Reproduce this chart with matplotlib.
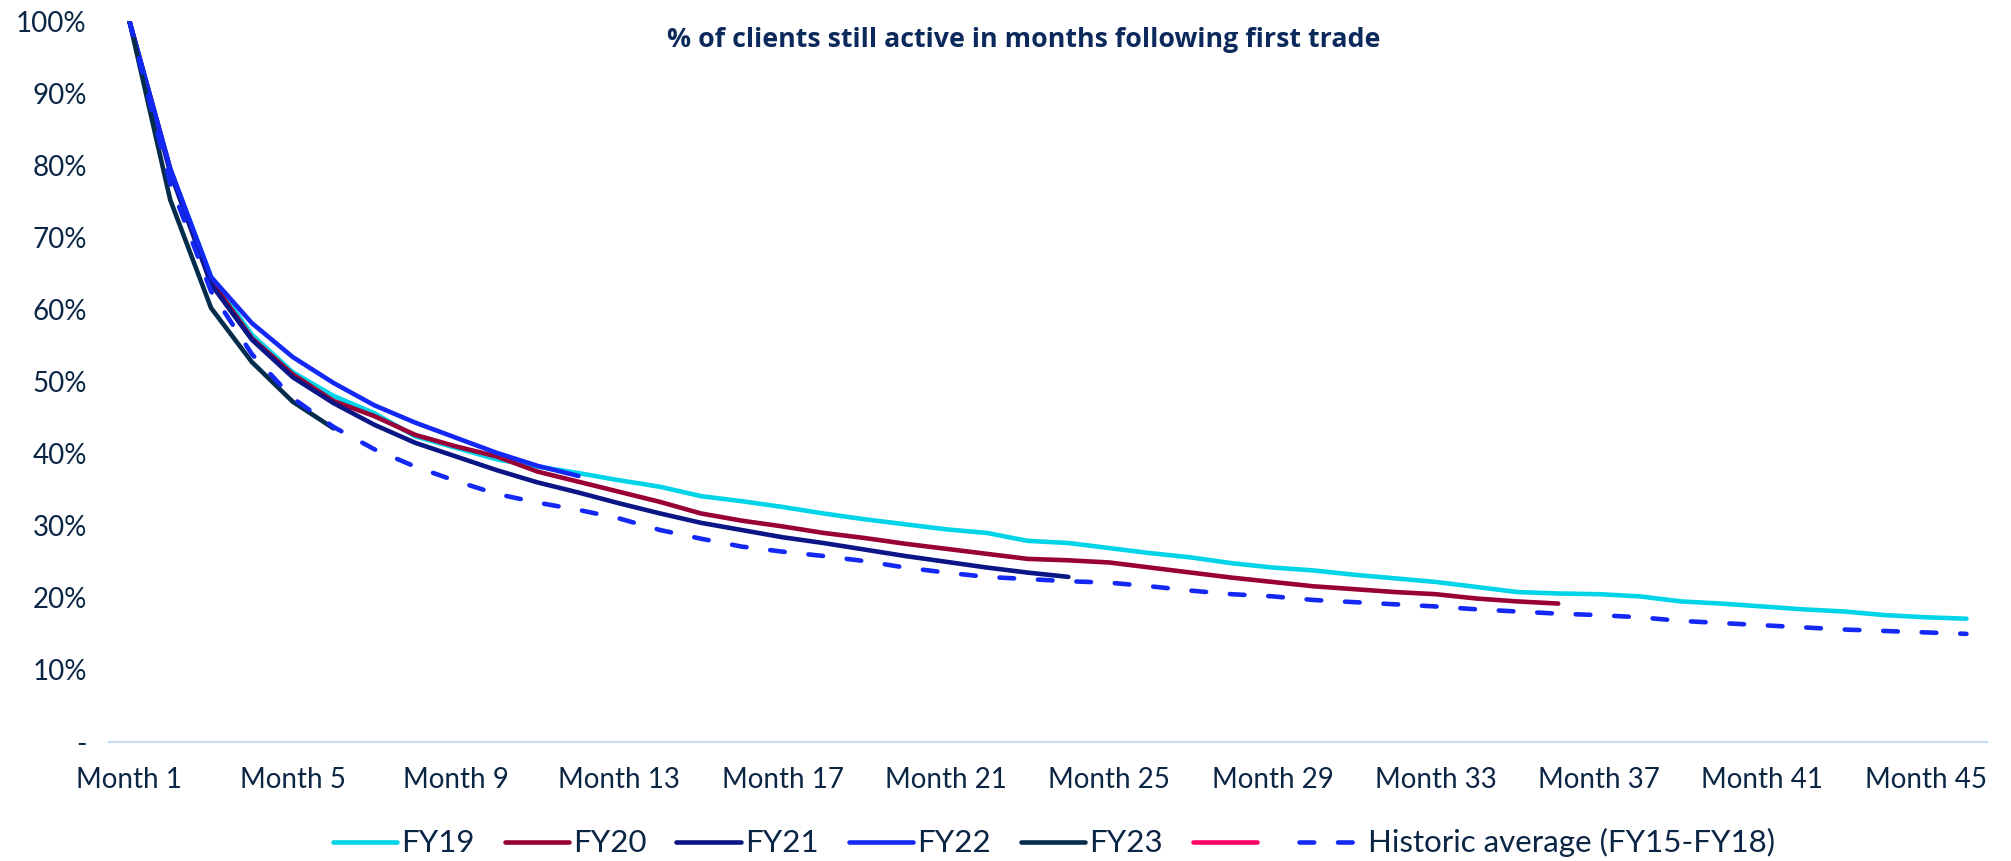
import matplotlib
matplotlib.use("Agg")
import matplotlib.pyplot as plt

# Datos (% de clientes activos por mes)
meses = list(range(1, 47))

fy19 = [100, 79.5, 64.5, 56.5, 51.3, 48.0, 45.6, 42.4, 40.8, 39.2,
        38.2, 37.3, 36.3, 35.4, 34.1, 33.4, 32.6, 31.7, 30.9, 30.2,
        29.5, 29.0, 27.9, 27.6, 26.9, 26.2, 25.6, 24.8, 24.2, 23.8,
        23.2, 22.7, 22.2, 21.5, 20.8, 20.6, 20.5, 20.2, 19.5, 19.2,
        18.8, 18.4, 18.1, 17.6, 17.3, 17.1]
fy20 = [100, 79.5, 64.0, 56.0, 51.0, 47.3, 45.2, 42.6, 41.0, 39.6,
        37.5, 36.1, 34.7, 33.3, 31.7, 30.7, 29.9, 29.0, 28.3, 27.5,
        26.8, 26.1, 25.4, 25.2, 24.9, 24.2, 23.5, 22.8, 22.2, 21.6,
        21.2, 20.8, 20.5, 19.9, 19.5, 19.2]
fy21 = [100, 79.0, 63.5, 55.8, 50.6, 47.0, 44.0, 41.5, 39.6, 37.7,
        36.0, 34.6, 33.1, 31.7, 30.4, 29.4, 28.4, 27.6, 26.7, 25.8,
        25.0, 24.2, 23.5, 22.9]
fy22 = [100, 79.5, 64.5, 58.1, 53.4, 49.8, 46.7, 44.3, 42.2, 40.1,
        38.3, 36.9]
fy23 = [100, 75.2, 60.2, 52.7, 47.2, 43.5]
fy24 = []
historico = [100, 77.5, 62.5, 53.8, 47.7, 43.7, 40.6, 38.2, 36.2, 34.4,
             33.2, 32.2, 31.0, 29.4, 28.2, 27.1, 26.4, 25.8, 25.1, 24.2,
             23.5, 22.9, 22.6, 22.3, 22.1, 21.6, 21.0, 20.5, 20.2, 19.7,
             19.4, 19.1, 18.8, 18.4, 18.1, 17.8, 17.6, 17.3, 16.8, 16.5,
             16.2, 15.9, 15.6, 15.4, 15.2, 15.0]

series = [("FY19", fy19, "#00D4E8"),
          ("FY20", fy20, "#990038"),
          ("FY21", fy21, "#0A1586"),
          ("FY22", fy22, "#1428F5"),
          ("FY23", fy23, "#062C4C"),
          (" ", fy24, "#FF0066")]

marcas = list(range(1, 46, 4))
etiquetas_x = [f"Month {m}" for m in marcas]
niveles_y = list(range(0, 101, 10))
etiquetas_y = ["-"] + [f"{v}%" for v in niveles_y[1:]]

texto = "#0B2545"
plt.rcParams['font.family'] = ['Lato', 'DejaVu Sans']

fig = plt.figure(figsize=(20.11, 8.61), dpi=100)
ax = fig.add_axes([0.0542, 0.1382, 0.9338, 0.8374])

for nombre, valores, color in series:
    ax.plot(meses[:len(valores)], valores, color=color, lw=3.3,
            solid_capstyle='round', label=nombre)

ax.plot(meses[:len(historico)], historico, color="#1428F5", lw=3.3,
        dashes=(3.2, 5.2), dash_capstyle='round',
        label="Historic average (FY15-FY18)")

ax.set_xlim(0.5, 46.5)
ax.set_ylim(0, 100)
ax.set_xticks(marcas)
ax.set_xticklabels(etiquetas_x)
ax.set_yticks(niveles_y)
ax.set_yticklabels(etiquetas_y)
ax.tick_params(length=0, labelsize=20, colors=texto)
ax.tick_params(axis='x', pad=18)
ax.tick_params(axis='y', pad=16)

for lado in ['top', 'right', 'left']:
    ax.spines[lado].set_visible(False)
ax.spines['bottom'].set_color("#C5DCF2")
ax.spines['bottom'].set_linewidth(1.5)

fig.text(0.509, 0.953, "% of clients still active in months following first trade",
         ha='center', va='center', fontsize=19.3, fontweight='bold',
         color="#0B2A5B", family=['Open Sans', 'DejaVu Sans'])

fig.legend(loc='center', bbox_to_anchor=(0.524, 0.021), ncol=7,
           frameon=False, fontsize=22.5, labelcolor=texto,
           handlelength=2.05, handletextpad=0.15, columnspacing=0.95)

plt.savefig("out.png", dpi=100)
plt.close(fig)
